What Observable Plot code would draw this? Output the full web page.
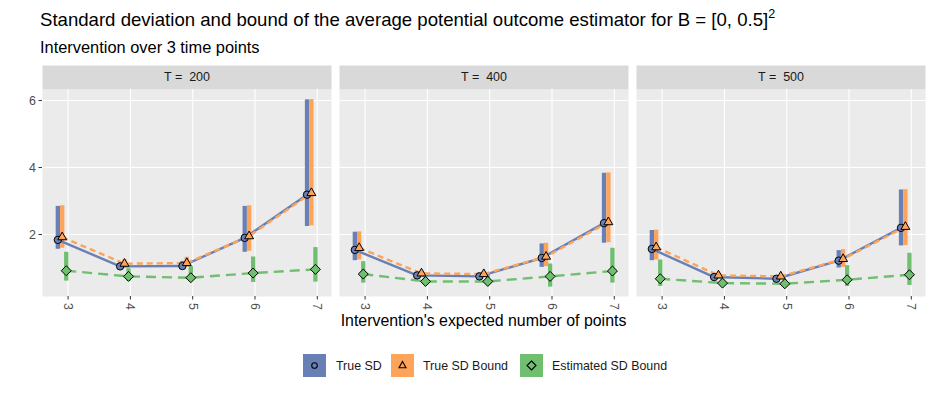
<!DOCTYPE html>
<html>
<head>
<meta charset="utf-8">
<script src="https://cdn.jsdelivr.net/npm/d3@7"></script>
<script src="https://cdn.jsdelivr.net/npm/@observablehq/plot@0.6"></script>
<style>
  body { margin: 0; background: #fff; font-family: "Liberation Sans", Arial, sans-serif; }
  #wrap { position: relative; width: 934px; height: 394px; overflow: hidden; }
  .abs { position: absolute; white-space: pre; line-height: 1; color: #000; }
  #chart { position: absolute; left: 0; top: 64px; }
  .key { position: absolute; width: 23px; height: 23px; top: 354px; }
  .ltxt { position: absolute; top: 359px; font-size: 12.4px; color: #1a1a1a; }
</style>
</head>
<body>
<div id="wrap">
  <div class="abs" style="left:40px;top:11px;font-size:18.6px;">Standard deviation and bound of the average potential outcome estimator for B = [0, 0.5]<span style="position:relative;top:-8px;font-size:12.5px;">2</span></div>
  <div class="abs" style="left:40px;top:39px;font-size:16.4px;">Intervention over 3 time points</div>
  <div id="chart"></div>
  <div class="abs" id="xtitle" style="left:0;width:967px;text-align:center;top:313px;font-size:15.9px;">Intervention's expected number of points</div>
  <div id="legend"></div>
</div>
<script>
// ---- data ----
const Ts = [200, 400, 500];
const xs = [3, 4, 5, 6, 7];
const seriesNames = ["True SD", "True SD Bound", "Estimated SD Bound"];
const yTicks = [2, 4, 6];

// True SD (value, lower, upper) per T
const trueSD    = [[1.84, 1.05, 1.06, 1.90, 3.19], [1.54, 0.78, 0.75, 1.30, 2.34], [1.57, 0.73, 0.68, 1.22, 2.20]];
const trueSDLo  = [[1.56, 0.98, 0.97, 1.47, 2.24], [1.22, 0.72, 0.70, 1.02, 1.74], [1.22, 0.68, 0.63, 1.00, 1.66]];
const trueSDHi  = [[2.84, 1.16, 1.20, 2.84, 6.02], [2.07, 0.86, 0.85, 1.72, 3.83], [2.12, 0.80, 0.76, 1.52, 3.33]];
// True SD Bound
const bound     = [[1.92, 1.13, 1.15, 1.95, 3.24], [1.60, 0.84, 0.82, 1.34, 2.37], [1.62, 0.78, 0.75, 1.27, 2.23]];
const boundLo   = [[1.59, 1.00, 1.02, 1.50, 2.26], [1.24, 0.74, 0.72, 1.04, 1.76], [1.24, 0.70, 0.66, 1.02, 1.67]];
const boundHi   = [[2.86, 1.25, 1.32, 2.86, 6.03], [2.08, 0.90, 0.90, 1.74, 3.84], [2.13, 0.84, 0.82, 1.55, 3.34]];
// Estimated SD Bound
const est       = [[0.92, 0.75, 0.71, 0.85, 0.96], [0.82, 0.60, 0.60, 0.75, 0.91], [0.68, 0.55, 0.53, 0.65, 0.80]];
const estLo     = [[0.61, 0.60, 0.60, 0.57, 0.58], [0.55, 0.50, 0.50, 0.43, 0.55], [0.45, 0.45, 0.44, 0.45, 0.48]];
const estHi     = [[1.47, 0.98, 1.05, 1.33, 1.61], [1.19, 0.75, 0.80, 1.12, 1.59], [1.24, 0.66, 0.65, 1.07, 1.44]];

// ---- styling ----
const colors  = ["#6880b6", "#fda35a", "#70be70"];
const dashes  = [null, "6,4", "10,6"];
const symbols = ["circle", "triangle", "diamond2"];
const radii   = [3.7, 3.3, 4.5];
const dodge   = [-0.165, -0.095, -0.03];

const vals = [trueSD, bound, est], los = [trueSDLo, boundLo, estLo], his = [trueSDHi, boundHi, estHi];
const rows = [];
seriesNames.forEach((s, si) => {
  Ts.forEach((T, ti) => {
    xs.forEach((x, xi) => {
      rows.push({series: s, si, T, x: x + dodge[si], v: vals[si][ti][xi], lo: los[si][ti][xi], hi: his[si][ti][xi]});
    });
  });
});

const bars = seriesNames.map((s, si) => Plot.ruleX(rows.filter(d => d.si === si), {
  fx: "T", x: "x", y1: "lo", y2: "hi", stroke: colors[si], strokeWidth: 4.3
}));
const lines = seriesNames.map((s, si) => Plot.line(rows.filter(d => d.si === si), {
  fx: "T", x: "x", y: "v", z: "T", stroke: colors[si], strokeWidth: 2.4, strokeDasharray: dashes[si], strokeLinecap: "butt"
}));
const dots = seriesNames.map((s, si) => Plot.dot(rows.filter(d => d.si === si), {
  fx: "T", x: "x", y: "v", symbol: symbols[si], r: radii[si], fill: colors[si], stroke: "black", strokeWidth: 1
}));

const plot = Plot.plot({
  width: 934,
  height: 250,
  marginTop: 25,
  marginBottom: 18,
  marginLeft: 41,
  marginRight: 8,
  style: {fontFamily: "'Liberation Sans', Arial, sans-serif", fontSize: "12.4px", background: "transparent", overflow: "visible"},
  fx: {domain: Ts, paddingInner: 8 / 297.67, paddingOuter: 0, axis: null, label: null},
  x: {domain: [2.589, 7.228], label: null},
  y: {domain: [0.15, 6.33], label: null},
  marks: [
    Plot.frame({fill: "#ebebeb", stroke: null}),
    Plot.frame({fill: "#d9d9d9", stroke: null, insetTop: -24, insetBottom: 207}),
    Plot.text(Ts, {fx: d => d, text: d => "T =\u00a0 " + d, frameAnchor: "top", dy: -12.5, lineAnchor: "middle", fill: "#1a1a1a", fontSize: 12.5}),
    Plot.gridX({ticks: xs, stroke: "white", strokeOpacity: 1, strokeWidth: 1.1}),
    Plot.gridY({ticks: yTicks, stroke: "white", strokeOpacity: 1, strokeWidth: 1.1}),
    Plot.axisY({ticks: yTicks, tickFormat: d => String(d), tickSize: 3.5, tickPadding: 3, label: null, stroke: "#333", fill: "#4d4d4d", fontSize: 12.4}),
    Plot.axisX({ticks: xs, tickFormat: d => String(d), tickSize: 3.5, tickPadding: 3, tickRotate: 90, label: null, stroke: "#333", fill: "#4d4d4d", fontSize: 12.4}),
    ...bars,
    ...lines,
    ...dots
  ]
});
document.getElementById("chart").appendChild(plot);

// ---- legend ----
const legend = document.getElementById("legend");
const keyX = [303, 391, 520], txtX = [336, 423, 552];
const keyShapes = [
  '<circle cx="11.5" cy="11.5" r="2.8" fill="none" stroke="black" stroke-width="1.1"/>',
  '<path d="M11.5,7.5 L15,13.8 L8,13.8 Z" fill="none" stroke="black" stroke-width="1.1"/>',
  '<path d="M11.5,7 L16,11.5 L11.5,16 L7,11.5 Z" fill="none" stroke="black" stroke-width="1.1"/>'
];
seriesNames.forEach((s, si) => {
  const k = document.createElement("div");
  k.className = "key";
  k.style.left = keyX[si] + "px";
  k.innerHTML = `<svg width="23" height="23"><rect width="23" height="23" fill="${colors[si]}"/>${keyShapes[si]}</svg>`;
  legend.appendChild(k);
  const t = document.createElement("div");
  t.className = "ltxt";
  t.style.left = txtX[si] + "px";
  t.textContent = s;
  legend.appendChild(t);
});
</script>
</body>
</html>
